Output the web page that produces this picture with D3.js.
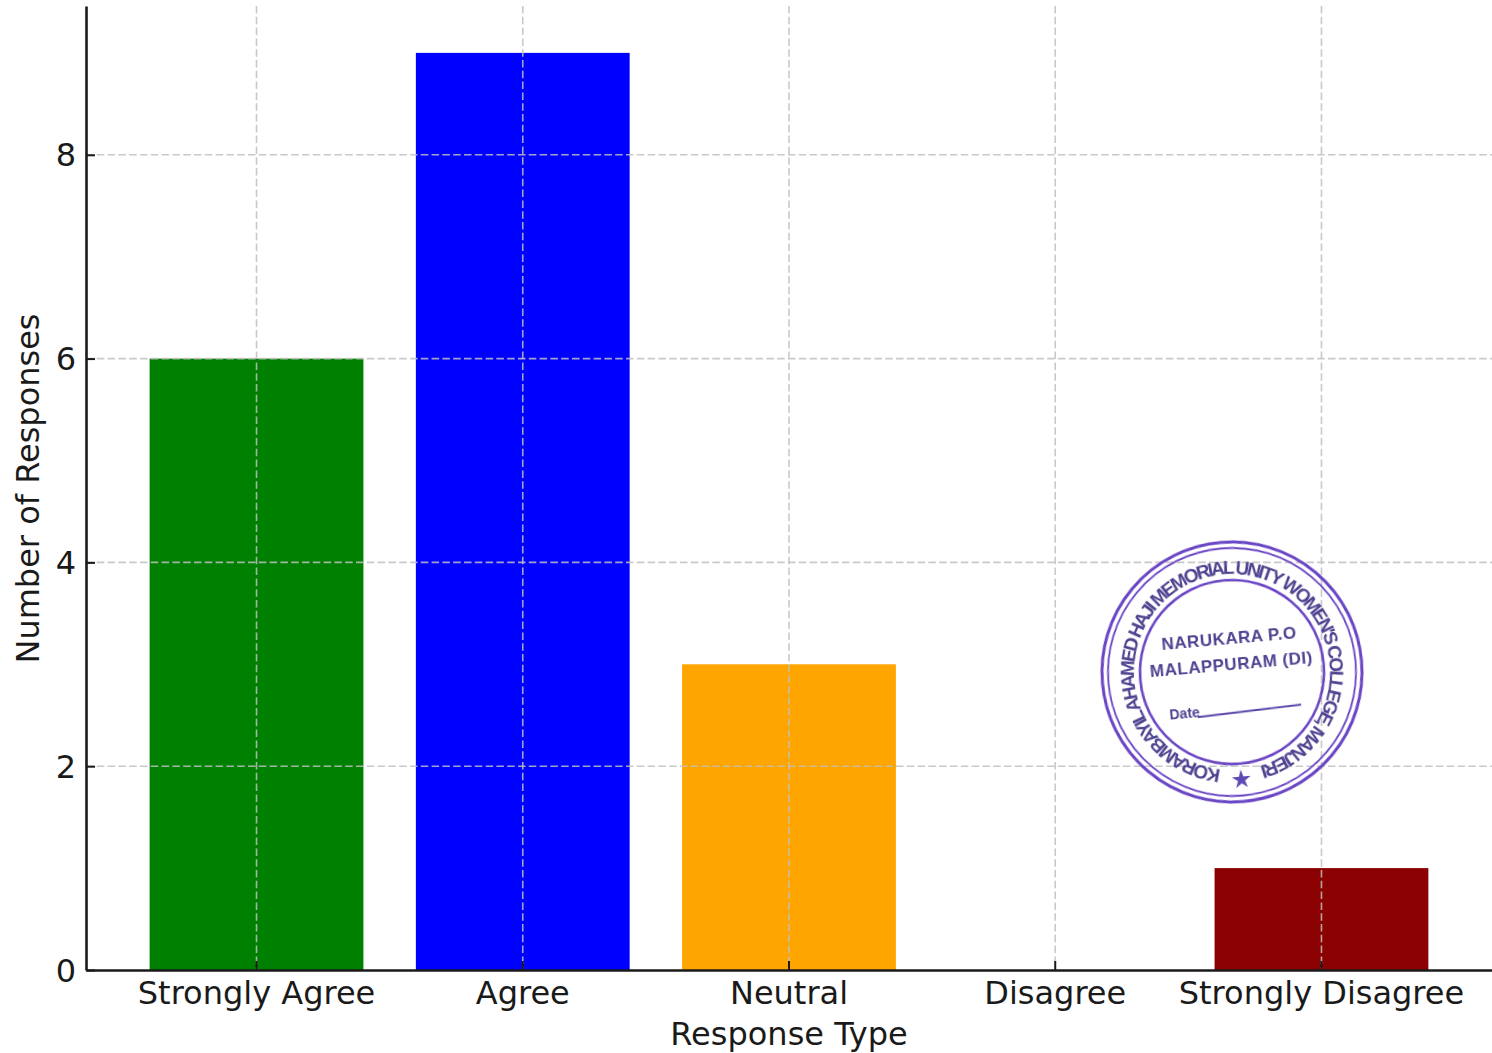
<!DOCTYPE html>
<html>
<head>
<meta charset="utf-8">
<script src="https://cdn.jsdelivr.net/npm/d3@7/dist/d3.min.js"></script>
<style>
    html, body { margin: 0; padding: 0; background: #fff; }
    svg { display: block; }
    text { font-family: "DejaVu Sans", sans-serif; fill: #1a1a1a; }
</style>
</head>
<body>
<svg id="chart" width="1492" height="1053"></svg>
<script>
var categories = ['Strongly Agree', 'Agree', 'Neutral', 'Disagree', 'Strongly Disagree']
var responses = [6, 9, 3, 0, 1]
var barColors = ['#008000', '#0000ff', '#ffa500', '#ff0000', '#8b0000']
var yTickValues = [0, 2, 4, 6, 8]

var sealRing = "KORAMBAYIL AHAMED HAJI MEMORIAL UNITY WOMEN'S COLLEGE, MANJERI"
var sealLines = ['NARUKARA P.O', 'MALAPPURAM (DI)']
var sealDate = 'Date'

var svg = d3.select('#chart')
var plotLeft = 86, plotRight = 1492, plotTop = 6, plotBottom = 970

var x = d3.scaleBand()
    .domain(categories)
    .range([plotLeft, plotRight])
    .paddingInner(0.197)
    .paddingOuter(0.239)

var y = d3.scaleLinear()
    .domain([0, 9.46])
    .range([plotBottom, plotTop])

// bars first, the grid runs over them
svg.append('g')
    .selectAll('rect')
    .data(responses)
    .join('rect')
    .attr('x', (d, i) => x(categories[i]))
    .attr('y', d => y(d))
    .attr('width', x.bandwidth())
    .attr('height', d => y(0) - y(d))
    .attr('fill', (d, i) => barColors[i])

var grid = svg.append('g')
    .attr('fill', 'none')
    .attr('stroke', '#c0c0c0')
    .attr('stroke-opacity', 0.85)
    .attr('stroke-width', 1.6)
    .attr('stroke-dasharray', '7.5 3.3')

grid.selectAll('.gx')
    .data(categories)
    .join('line')
    .attr('class', 'gx')
    .attr('x1', d => x(d) + x.bandwidth() / 2)
    .attr('x2', d => x(d) + x.bandwidth() / 2)
    .attr('y1', plotTop)
    .attr('y2', plotBottom)

grid.selectAll('.gy')
    .data(yTickValues.slice(1))
    .join('line')
    .attr('class', 'gy')
    .attr('x1', plotLeft)
    .attr('x2', plotRight)
    .attr('y1', d => y(d))
    .attr('y2', d => y(d))

// axes, ticks point inward
var xAxis = svg.append('g')
    .attr('transform', 'translate(0,' + plotBottom + ')')
    .call(d3.axisBottom(x).tickSizeInner(-9).tickSizeOuter(0).tickPadding(11))

var yAxis = svg.append('g')
    .attr('transform', 'translate(' + plotLeft + ',0)')
    .call(d3.axisLeft(y).tickValues(yTickValues).tickSizeInner(-9).tickSizeOuter(0).tickPadding(10).tickFormat(d3.format('d')))

svg.selectAll('.domain')
    .attr('stroke', '#1a1a1a')
    .attr('stroke-width', 2.6)
svg.selectAll('.tick line')
    .attr('stroke', '#1a1a1a')
    .attr('stroke-width', 2)
svg.selectAll('.tick text')
    .style('font-family', '"DejaVu Sans", sans-serif')
    .style('font-size', '32px')
    .attr('fill', '#1a1a1a')
yAxis.selectAll('.tick text').attr('dy', '0.35em')

svg.append('text')
    .attr('x', (plotLeft + plotRight) / 2)
    .attr('y', 1045)
    .attr('text-anchor', 'middle')
    .style('font-size', '32px')
    .text('Response Type')

svg.append('text')
    .attr('transform', 'translate(39,488.5) rotate(-90)')
    .attr('text-anchor', 'middle')
    .style('font-size', '32px')
    .text('Number of Responses')

// college seal stamped over the lower right of the plot
var cx = 1232, cy = 672
var defs = svg.append('defs')
defs.append('filter')
    .attr('id', 'ink')
    .append('feGaussianBlur')
    .attr('stdDeviation', 0.7)

var ringRadius = 98
var ringSweep = 2 * Math.PI - 0.4
var ringStart = Math.PI / 2 + 0.2
var ringPath = d3.path()
ringPath.arc(0, 0, ringRadius, ringStart, ringStart + ringSweep)
defs.append('path')
    .attr('id', 'seal-ring')
    .attr('d', ringPath.toString())

var seal = svg.append('g')
    .attr('transform', 'translate(' + cx + ',' + cy + ') rotate(-5)')
    .attr('filter', 'url(#ink)')

seal.selectAll('circle')
    .data([[130, 3], [124, 1.8], [92, 2.6]])
    .join('circle')
    .attr('r', d => d[0])
    .attr('fill', 'none')
    .attr('stroke', '#6a45c4')
    .attr('stroke-width', d => d[1])

seal.append('text')
    .style('font-family', '"Liberation Sans", sans-serif')
    .style('font-size', '19px')
    .style('font-weight', 'bold')
    .style('fill', '#4f4390')
    .append('textPath')
    .attr('href', '#seal-ring')
    .attr('textLength', ringRadius * ringSweep)
    .attr('lengthAdjust', 'spacing')
    .text(sealRing)

seal.selectAll('.seal-line')
    .data(sealLines)
    .join('text')
    .attr('class', 'seal-line')
    .attr('x', 0)
    .attr('y', (d, i) => -28 + i * 26)
    .attr('text-anchor', 'middle')
    .style('font-family', '"Liberation Sans", sans-serif')
    .style('font-size', '17px')
    .style('font-weight', 'bold')
    .style('letter-spacing', '0.5px')
    .style('fill', '#4f4390')
    .text(d => d)

seal.append('text')
    .attr('x', -66)
    .attr('y', 42)
    .style('font-family', '"Liberation Sans", sans-serif')
    .style('font-size', '14px')
    .style('font-weight', 'bold')
    .style('fill', '#4f4390')
    .text(sealDate)

seal.append('line')
    .attr('x1', -38)
    .attr('y1', 42)
    .attr('x2', 66)
    .attr('y2', 38.5)
    .attr('stroke', '#5a45a8')
    .attr('stroke-width', 1.8)

seal.append('path')
    .attr('d', d3.symbol(d3.symbolStar, 110)())
    .attr('transform', 'translate(0,108)')
    .attr('fill', '#5f49b4')
</script>
</body>
</html>
